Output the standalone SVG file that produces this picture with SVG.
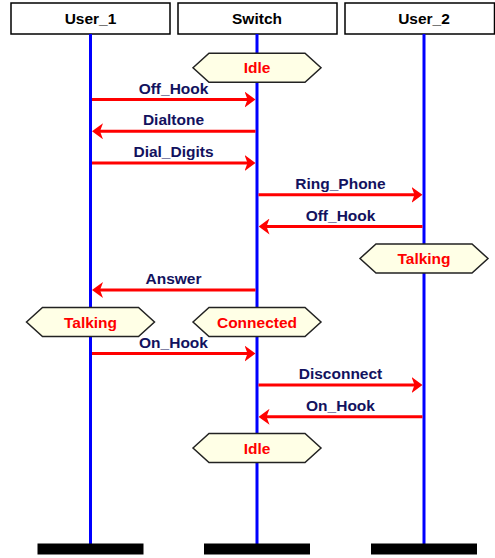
<svg xmlns="http://www.w3.org/2000/svg" width="495" height="558" viewBox="0 0 495 558">
<style>
.box{fill:#ffffff;stroke:#000000;stroke-width:1.5}
.life{stroke:#0000ff;stroke-width:3;fill:none}
.bar{fill:#000000}
.hdr{font-family:"Liberation Sans",Arial,sans-serif;font-weight:bold;font-size:15.5px;fill:#000000;text-anchor:middle}
.hex{fill:#ffffe6;stroke:#222222;stroke-width:1.5}
.st{font-family:"Liberation Sans",Arial,sans-serif;font-weight:bold;font-size:15.5px;fill:#ff0000;text-anchor:middle}
.msg{stroke:#ff0000;stroke-width:3;fill:none;marker-end:url(#ah)}
.lbl{font-family:"Liberation Sans",Arial,sans-serif;font-weight:bold;font-size:15.5px;fill:#12125e;text-anchor:middle}
</style>
<defs>
<marker id="ah" markerUnits="userSpaceOnUse" viewBox="0 -8 11 16" refX="5" refY="0" markerWidth="11" markerHeight="16" orient="auto">
<path d="M0,-8 L11,0 L0,8 L3,0 Z" fill="#ff0000"/>
</marker>
</defs>
<rect width="495" height="558" fill="#ffffff"/>

<g id="user1">
<rect class="box" x="11" y="3" width="159" height="31"/>
<text class="hdr" x="90.5" y="24">User_1</text>
<line class="life" x1="90.5" y1="34" x2="90.5" y2="544"/>
<rect class="bar" x="37.5" y="543.5" width="106" height="11"/>
</g>
<g id="switch">
<rect class="box" x="178" y="3" width="159" height="31"/>
<text class="hdr" x="257" y="24">Switch</text>
<line class="life" x1="257" y1="34" x2="257" y2="544"/>
<rect class="bar" x="204" y="543.5" width="106" height="11"/>
</g>
<g id="user2">
<rect class="box" x="345" y="3" width="149.5" height="31"/>
<text class="hdr" x="424" y="24">User_2</text>
<line class="life" x1="424" y1="34" x2="424" y2="544"/>
<rect class="bar" x="371" y="543.5" width="106" height="11"/>
</g>

<g id="state_idle_1">
<polygon class="hex" points="193,67.8 209,53.3 305,53.3 321,67.8 305,82.3 209,82.3"/>
<text class="st" x="257" y="73.3">Idle</text>
</g>
<g id="state_talking_2">
<polygon class="hex" points="360,258.5 376,244 472,244 488,258.5 472,273 376,273"/>
<text class="st" x="424" y="264">Talking</text>
</g>
<g id="state_talking_1">
<polygon class="hex" points="26.5,322 42.5,307.5 138.5,307.5 154.5,322 138.5,336.5 42.5,336.5"/>
<text class="st" x="90.5" y="327.5">Talking</text>
</g>
<g id="state_connected">
<polygon class="hex" points="193,322 209,307.5 305,307.5 321,322 305,336.5 209,336.5"/>
<text class="st" x="257" y="327.5">Connected</text>
</g>
<g id="state_idle_2">
<polygon class="hex" points="193,448 209,433.5 305,433.5 321,448 305,462.5 209,462.5"/>
<text class="st" x="257" y="453.5">Idle</text>
</g>

<g id="connectors">
<line class="msg" x1="92" y1="99.5" x2="249.5" y2="99.5"/>
<text class="lbl" x="173.5" y="93.5">Off_Hook</text>
<line class="msg" x1="255.5" y1="131.3" x2="98" y2="131.3"/>
<text class="lbl" x="173.5" y="125.3">Dialtone</text>
<line class="msg" x1="92" y1="163" x2="249.5" y2="163"/>
<text class="lbl" x="173.5" y="157">Dial_Digits</text>
<line class="msg" x1="258.5" y1="194.8" x2="416.5" y2="194.8"/>
<text class="lbl" x="340.5" y="188.8">Ring_Phone</text>
<line class="msg" x1="422.5" y1="226.5" x2="264.5" y2="226.5"/>
<text class="lbl" x="340.5" y="220.5">Off_Hook</text>
<line class="msg" x1="255.5" y1="290" x2="98" y2="290"/>
<text class="lbl" x="173.5" y="284">Answer</text>
<line class="msg" x1="92" y1="353.5" x2="249.5" y2="353.5"/>
<text class="lbl" x="173.5" y="347.5">On_Hook</text>
<line class="msg" x1="258.5" y1="385" x2="416.5" y2="385"/>
<text class="lbl" x="340.5" y="379">Disconnect</text>
<line class="msg" x1="422.5" y1="416.8" x2="264.5" y2="416.8"/>
<text class="lbl" x="340.5" y="410.8">On_Hook</text>
</g>
</svg>
